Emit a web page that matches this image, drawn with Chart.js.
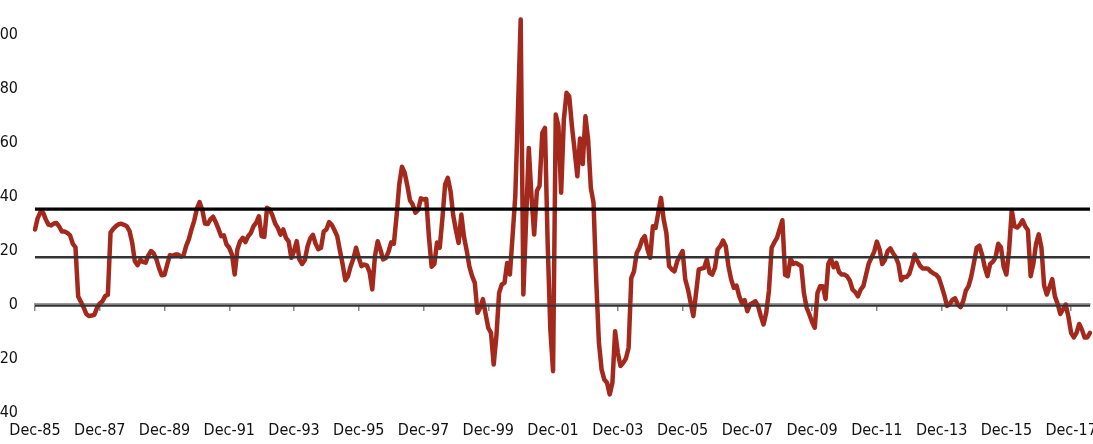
<!DOCTYPE html>
<html>
<head>
<meta charset="utf-8">
<style>
  html, body { margin: 0; padding: 0; background: #fff; overflow: hidden; }
</style>
<script src="https://cdn.jsdelivr.net/npm/chart.js@4.4.0/dist/chart.umd.min.js"></script>
</head>
<body>
<canvas id="myChart" width="1093" height="444"></canvas>
<script>
// monthly values, Dec-85 .. Jul-18
var spread = [
  27.8, 32, 34.2, 34, 31.5, 29.6, 29.3, 30, 30.2, 28.8, 27, 27,
  26.5, 25.6, 22.5, 21.2, 3, 1, -1, -3.5, -4.3, -4.1, -3.8, -1.2,
  0.4, 1.2, 3.1, 3.6, 26.6, 28, 29, 29.7, 29.9, 29.5, 29, 27.3,
  23, 16, 14.6, 16.5, 15.8, 15.5, 18.2, 19.8, 18.9, 16.7, 13.4, 10.8,
  11, 14.8, 18.3, 18, 18.5, 18.5, 17.8, 18, 21.6, 24.1, 27.8, 31,
  35.5, 37.9, 35, 30, 29.8, 31.5, 32.5, 30.5, 28, 25.3, 25.6, 22.2,
  21, 18.5, 11.1, 20.4, 23.4, 24.7, 23.1, 25.3, 26.5, 29, 30.3, 32.7,
  25.3, 25.1, 35.8, 35.2, 33, 30, 28.4, 25.9, 27.8, 24.7, 23.4, 17.3,
  19.8, 23.5, 16.7, 15, 16.5, 21.5, 24.5, 25.8, 22.5, 20.5, 21, 27,
  27.8, 30.5, 29.5, 27.5, 25.3, 20, 15, 9, 10.5, 14.2, 17, 21,
  17.3, 14.2, 14.8, 14.5, 12, 5.6, 18, 23.4, 20.4, 16.7, 17.2, 19.5,
  23, 22.5, 32.7, 44.5, 51, 48.8, 44, 38.5, 37, 34, 35, 39.3,
  38.9, 39.1, 25, 14, 15, 23, 21, 32, 44.5, 46.9, 42, 33,
  27.5, 22.8, 33.3, 25, 20, 14, 10.5, 8, -3.1, -1.2, 2, -3.5,
  -8.7, -10.5, -22.2, -11.7, 4.3, 7.4, 8, 15.4, 11.1, 25.3, 40.1, 72,
  105.6, 3.7, 31, 58, 40.1, 25.9, 42, 44, 63.5, 65.4, 22.8, -9.3,
  -24.7, 70.4, 66, 41.4, 68.5, 78.4, 77.1, 66, 57, 47.5, 61.5, 52,
  69.7, 61.1, 43.2, 37.7, 9, -14.2, -24.1, -27.8, -29, -33.3, -29, -9.9,
  -17.9, -22.8, -21.6, -20, -16, 9.9, 12.3, 19.1, 21, 24, 25.3, 20.4,
  17.3, 29, 28.4, 34, 39.5, 31.5, 26.5, 14.2, 13, 12.3, 16, 17.9,
  19.8, 9.3, 5.6, 0.6, -4.3, 4.3, 13, 13.3, 13.6, 16.7, 11.7, 11.1,
  13.6, 20.4, 21.6, 23.7, 21.6, 14.2, 9.3, 6.2, 7, 3.1, 0.6, 1.6,
  -2.5, 0, 0.6, 1.2, -0.6, -4.3, -7.4, -3.1, 5, 21, 23, 24.7,
  28, 31.2, 11, 10.5, 17, 15, 15.4, 14.8, 14.2, 4, -1.2, -3.7,
  -6.5, -8.6, 4.3, 6.8, 6.8, 2, 15, 17, 13.8, 15.4, 12, 11.1,
  11.1, 10.4, 8.8, 5.5, 4.6, 3, 5.5, 6.8, 11, 15.2, 17.3, 19.5,
  23.3, 20.5, 15, 16.5, 19.8, 20.8, 19, 17.6, 15, 9, 10.2, 10.2,
  11.3, 14.5, 18.5, 16.3, 14.4, 13.3, 13.3, 13.2, 12.2, 11.5, 11, 9.8,
  6.8, 3.5, -0.5, 0.2, 1.7, 2.3, 0, -1, 1.2, 5.2, 6.8, 10.4,
  15.5, 21, 21.8, 18.5, 13.8, 10.5, 15, 15.8, 17.5, 22.5, 21.2, 14,
  11.1, 20, 35, 29, 28.5, 29.5, 31.2, 29, 27.5, 10.5, 15, 22.5,
  26, 21, 7, 3.7, 6.5, 9.4, 3, 0.3, -3.5, -1.8, 0, -4.5,
  -10.5, -12.2, -10.5, -7.2, -9.3, -12.2, -12.2, -10.5
];

var upperBand = 35.3;
var meanLine = 17.5;
var lowerBand = -0.5;

var tickLabels = ['Dec-85', 'Dec-87', 'Dec-89', 'Dec-91', 'Dec-93', 'Dec-95', 'Dec-97', 'Dec-99',
                  'Dec-01', 'Dec-03', 'Dec-05', 'Dec-07', 'Dec-09', 'Dec-11', 'Dec-13', 'Dec-15', 'Dec-17'];

var monthNames = ['Jan', 'Feb', 'Mar', 'Apr', 'May', 'Jun', 'Jul', 'Aug', 'Sep', 'Oct', 'Nov', 'Dec'];
var labels = [];
for (var i = 0; i < spread.length; i++) {
  var m = 11 + i;
  var yr = (1985 + Math.floor(m / 12)) % 100;
  labels.push(monthNames[m % 12] + '-' + (yr < 10 ? '0' + yr : '' + yr));
}

function flat(v) {
  return [{ x: labels[0], y: v }, { x: labels[labels.length - 1], y: v }];
}

// no extra room for first/last labels, the chart is cropped like the original
function noPad(scale) {
  scale.paddingLeft = 0;
  scale.paddingRight = 0;
  scale.paddingTop = 0;
  scale.paddingBottom = 0;
}

var font = { family: '"Liberation Sans Narrow", "Arial Narrow", "DejaVu Sans Condensed", sans-serif', size: 16 };

new Chart(document.getElementById('myChart'), {
  type: 'line',
  data: {
    labels: labels,
    datasets: [
      { data: flat(upperBand), borderColor: '#000', borderWidth: 3.2, pointRadius: 0, order: 1 },
      { data: flat(meanLine), borderColor: '#333', borderWidth: 2.5, pointRadius: 0, order: 1 },
      { data: flat(lowerBand), borderColor: '#333', borderWidth: 2, pointRadius: 0, order: 1 },
      {
        data: spread,
        borderColor: '#a3291d',
        borderWidth: 4.5,
        pointRadius: 0,
        tension: 0,
        borderJoinStyle: 'round',
        borderCapStyle: 'round',
        order: 2
      }
    ]
  },
  options: {
    responsive: false,
    devicePixelRatio: 1,
    animation: false,
    layout: { padding: { left: 0, right: 3, top: 7.5, bottom: 0 } },
    plugins: { legend: { display: false }, tooltip: { enabled: false } },
    scales: {
      x: {
        type: 'category',
        position: { y: 0 },
        border: { display: true, color: '#9a9a9a', width: 3 },
        grid: {
          display: true,
          drawOnChartArea: false,
          drawTicks: true,
          tickLength: 5,
          lineWidth: 1.5,
          color: function (ctx) { return tickLabels.indexOf(labels[ctx.index]) >= 0 ? '#888' : 'rgba(0,0,0,0)'; }
        },
        ticks: { display: false, autoSkip: false },
        afterFit: noPad
      },
      x2: {
        type: 'category',
        position: 'bottom',
        labels: labels,
        border: { display: false },
        grid: { display: false, drawTicks: false },
        ticks: {
          autoSkip: false,
          maxRotation: 0,
          padding: 9,
          color: '#111',
          font: font,
          callback: function (value) {
            var l = labels[value];
            return tickLabels.indexOf(l) >= 0 ? l : null;
          }
        },
        afterFit: function (scale) { noPad(scale); scale.height = 31.5; }
      },
      y: {
        min: -40,
        max: 110,
        border: { display: false },
        grid: { display: false, drawTicks: false },
        ticks: { stepSize: 20, padding: 17, color: '#111', font: font },
        afterBuildTicks: function (scale) {
          scale.ticks = scale.ticks.filter(function (t) { return t.value % 20 === 0; });
        },
        afterFit: function (scale) { noPad(scale); scale.width = 35; }
      }
    }
  }
});
</script>
</body>
</html>
